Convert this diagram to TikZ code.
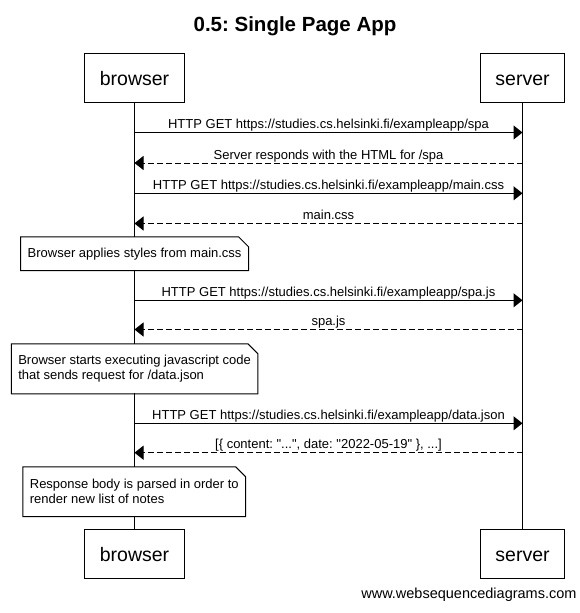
\documentclass[tikz,border=0pt]{standalone}
\usepackage{fontspec}
\newfontfamily\plainsans{Liberation Sans}
\setmainfont{Liberation Sans}
\usetikzlibrary{arrows.meta}
\frenchspacing
\newcommand\dogear[1]{\draw (#1.north west) -- ([xshift=-10pt]#1.north east) -- ([yshift=-10pt]#1.north east) -- (#1.south east) -- (#1.south west) -- cycle;}
\begin{document}
\begin{tikzpicture}[x=1pt,y=-1pt,line width=1pt,
  actor/.style={draw, fill=white, font=\plainsans\fontsize{19.5}{23}\selectfont, inner xsep=15.3pt, inner ysep=0pt, text height=16pt, text depth=0pt, minimum height=49pt},
  msg/.style={-{Triangle[length=9pt,width=14pt]}},
  reply/.style={msg, dash pattern=on 6pt off 3pt},
  lbl/.style={midway, anchor=base, yshift=4pt, inner sep=0pt, font=\plainsans\fontsize{13}{15}\selectfont},
  note/.style={fill=white, inner xsep=6.5pt, inner ysep=0pt, align=left, font=\plainsans\fontsize{13}{15}\selectfont},
  titlefont/.style={font=\plainsans\fontsize{20.5}{24}\selectfont\bfseries},
  markfont/.style={font=\plainsans\fontsize{14.5}{17}\selectfont}]
\useasboundingbox (0,0) rectangle (580,613);
\fill[white] (0,0) rectangle (580,613);
\node[titlefont, anchor=base, inner sep=0pt] (title) at (295,31.5) {0.5: Single Page App};
\node[actor] (bt) at (134.5,77.8) {browser};
\node[actor] (st) at (522.5,77.8) {server};
\node[actor] (bb) at (134.5,553.8) {browser};
\node[actor] (sb) at (522.5,553.8) {server};
\draw (bt) -- (bb);
\draw (st) -- (sb);
\foreach \i/\y in {1/132.5,2/163,3/193.3,4/223.5,5/300.3,6/329.5,7/423.3,8/452.7}{
  \coordinate (b\i) at (134.5,\y);
  \coordinate (s\i) at (522.5,\y);
}
\draw[msg] (b1) -- (s1) node[lbl] {HTTP GET https://studies.cs.helsinki.fi/exampleapp/spa};
\draw[reply] (s2) -- (b2) node[lbl] {Server responds with the HTML for /spa};
\draw[msg] (b3) -- (s3) node[lbl] {HTTP GET https://studies.cs.helsinki.fi/exampleapp/main.css};
\draw[reply] (s4) -- (b4) node[lbl] {main.css};
\draw[msg] (b5) -- (s5) node[lbl] {HTTP GET https://studies.cs.helsinki.fi/exampleapp/spa.js};
\draw[reply] (s6) -- (b6) node[lbl] {spa.js};
\draw[msg] (b7) -- (s7) node[lbl] {HTTP GET https://studies.cs.helsinki.fi/exampleapp/data.json};
\draw[reply] (s8) -- (b8) node[lbl] {[\{ content: "...", date: "2022-05-19" \}, ...]};
\node[note, minimum height=32.7pt] (n1) at (134.6,253.65) {Browser applies styles from main.css};
\dogear{n1}
\node[note, minimum height=49pt] (n2) at (134.6,368.8) {Browser starts executing javascript code\\that sends request for /data.json};
\dogear{n2}
\node[note, minimum height=48.7pt] (n3) at (134.3,491.65) {Response body is parsed in order to\\render new list of notes};
\dogear{n3}
\node[markfont, anchor=base east, inner sep=0pt] (wm) at (577,598) {www.websequencediagrams.com};
\end{tikzpicture}
\end{document}
